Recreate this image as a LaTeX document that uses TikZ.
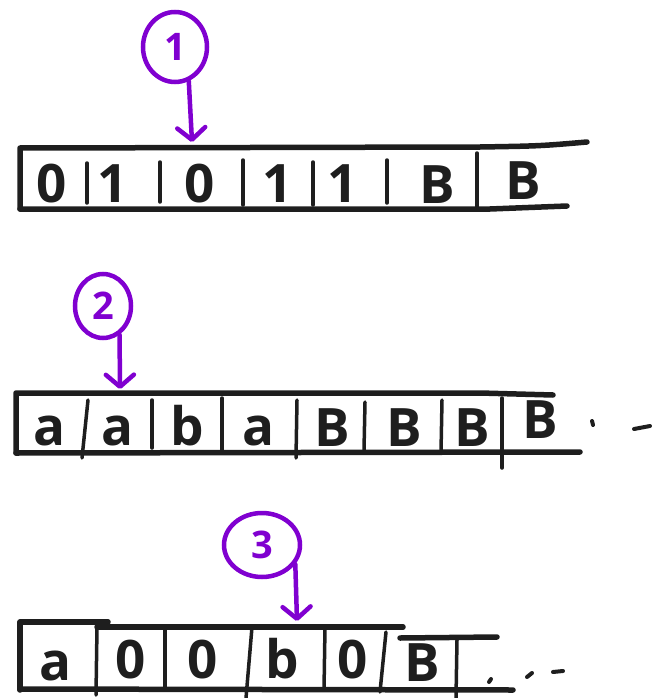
\documentclass[tikz,border=0pt]{standalone}
\usepackage{fontspec}
\setmainfont{Open Sans}
\usetikzlibrary{arrows.meta,shapes.geometric}
\definecolor{ink}{HTML}{1E1E1E}
\definecolor{pur}{HTML}{8000D0}
\begin{document}
\begin{tikzpicture}[x=1pt,y=-1pt,
  tapeline/.style={draw=ink,line width=5.5pt,line cap=round,line join=round},
  divline/.style={draw=ink,line width=3.5pt,line cap=round},
  dotmark/.style={draw=ink,line width=4pt,line cap=round},
  sym/.style={text=ink,font=\fontsize{53}{53}\selectfont\bfseries,inner sep=0pt,anchor=base},
  headcirc/.style={draw=pur,line width=4.5pt,ellipse,inner sep=0pt,text=pur,font=\fontsize{38}{38}\selectfont\bfseries},
  headarrow/.style={draw=pur,line width=4.5pt,line cap=round,-{Straight Barb[length=12pt,width=28pt,line cap=round,line join=round]}}]
\useasboundingbox (0,0) rectangle (655,698);

% ---------- tape 1 ----------
\draw[tapeline] (20,209) -- (20,148) -- (480,147) .. controls (540,146) .. (587,142);
\draw[tapeline] (20,209) -- (490,209) -- (567,206);
\foreach \x/\a/\b in {87/163/203,160/162/202,243/160/205,313/162/205,387/160/203,477/153/210}
  \draw[divline] (\x,\a) -- (\x,\b);
\node[sym] (t1a) at (52,202) {0};
\node[sym] (t1b) at (113,202) {1};
\node[sym] (t1c) at (200,202) {0};
\node[sym] (t1d) at (278,202) {1};
\node[sym] (t1e) at (343,202) {1};
\node[sym] (t1f) at (437,203) {B};
\node[sym] (t1g) at (523,199) {B};

\node[headcirc,minimum width=64pt,minimum height=70pt] (c1) at (175,47) {1};
\coordinate (h1) at (192,142);
\draw[headarrow] (c1.-68) -- (h1);

% ---------- tape 2 ----------
\draw[tapeline] (16,453) -- (16,393) -- (480,393) -- (553,395);
\draw[tapeline] (16,453) -- (580,452);
\foreach \xa/\ya/\xb/\yb in {88/400/82/458,152/400/152/448,222/398/222/450,297/400/296/458,365/402/364/450,442/400/441/452,502/398/502/468}
  \draw[divline] (\xa,\ya) -- (\xb,\yb);
\node[sym] (t2a) at (50,445) {a};
\node[sym] (t2b) at (118,445) {a};
\node[sym] (t2c) at (187,445) {b};
\node[sym] (t2d) at (259,445) {a};
\node[sym] (t2e) at (332,446) {B};
\node[sym] (t2f) at (404,446) {B};
\node[sym] (t2g) at (472,446) {B};
\node[sym] (t2h) at (540,438) {B};
\draw[dotmark] (592,421) -- (593,425);
\draw[dotmark] (634,429) -- (650,426);

\node[headcirc,minimum width=56pt,minimum height=64pt] (c2) at (103,306) {2};
\coordinate (h2) at (120,389);
\draw[headarrow] (c2.-60) -- (h2);

% ---------- tape 3 ----------
\draw[tapeline] (20,690) -- (20,622) -- (108,622);
\draw[tapeline] (97,627) -- (403,627);
\draw[tapeline] (400,638) -- (497,637);
\draw[tapeline] (20,689) -- (513,690);
\foreach \xa/\ya/\xb/\yb in {97/627/96/695,165/627/165/688,252/627/246/698,325/627/324/690,386/632/380/692,457/640/456/698}
  \draw[divline] (\xa,\ya) -- (\xb,\yb);
\node[sym] (t3a) at (56,680) {a};
\node[sym] (t3b) at (131,678) {0};
\node[sym] (t3c) at (203,678) {0};
\node[sym] (t3d) at (282,678) {b};
\node[sym] (t3e) at (353,678) {0};
\node[sym] (t3f) at (422,681) {B};
\draw[dotmark] (491,679) -- (489,682);
\draw[dotmark] (532,673) -- (527,677);
\draw[dotmark] (553,672) -- (563,671);

\node[headcirc,minimum width=76pt,minimum height=64pt] (c3) at (262,545) {3};
\coordinate (h3) at (297,621);
\draw[headarrow] (c3.-30) -- (h3);
\end{tikzpicture}
\end{document}
